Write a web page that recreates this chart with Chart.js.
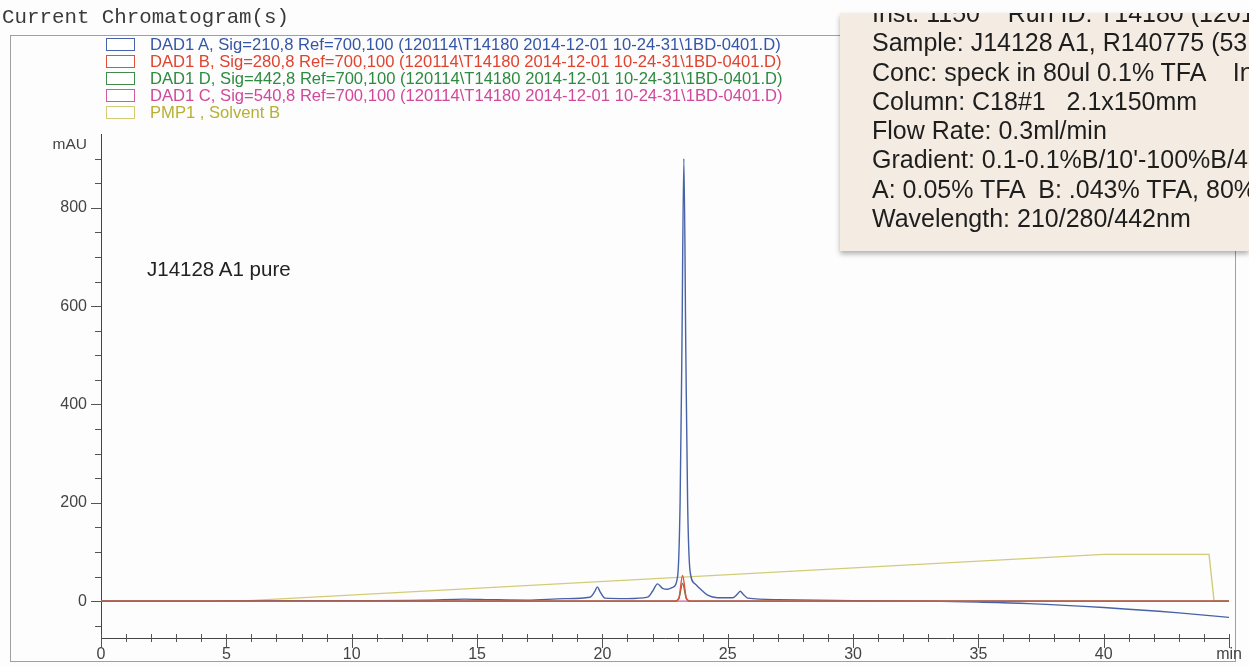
<!DOCTYPE html>
<html>
<head>
<meta charset="utf-8">
<script src="https://cdn.jsdelivr.net/npm/chart.js@4.4.1/dist/chart.umd.min.js"></script>
<style>
  body { margin: 0; width: 1249px; height: 666px; background: #fdfdfe; overflow: hidden; position: relative; font-family: "Liberation Sans", Arial, sans-serif; }
  #frame { position: absolute; left: 10px; top: 35px; width: 1226px; height: 627px; border: 1px solid #a0a0a0; box-sizing: border-box; }
  #chartBox { position: absolute; left: 0; top: 0; width: 1249px; height: 666px; }
  #title { position: absolute; left: 2px; top: 6px; font: 20.8px "Liberation Mono", "DejaVu Sans Mono", monospace; color: #3a3a3a; white-space: pre; }
  #legend { position: absolute; left: 106px; top: 36px; }
  .row { height: 17px; display: flex; align-items: center; white-space: pre; font-size: 16.6px; }
  .swatch { width: 27px; height: 11px; border: 1px solid; background: #fff; margin-right: 15px; }
  #sampleName { position: absolute; left: 147px; top: 257px; font-size: 20.5px; color: #222; }
  #note { position: absolute; left: 840px; top: 13px; width: 409px; height: 238px; background: #f4ece2; overflow: hidden; box-shadow: 0 3px 5px rgba(0,0,0,0.3); }
  #note div { position: absolute; left: 32px; top: -14px; font-size: 25px; line-height: 29.3px; color: #1e1e1e; white-space: pre; }
</style>
</head>
<body>
<div id="frame"></div>
<div id="chartBox"><canvas id="chromChart" width="1249" height="666"></canvas></div>
<div id="title">Current Chromatogram(s)</div>
<div id="legend"></div>
<div id="sampleName">J14128 A1 pure</div>
<div id="note"><div>Inst. 1150    Run ID: T14180 (120114)
Sample: J14128 A1, R140775 (53
Conc: speck in 80ul 0.1% TFA    Inj
Column: C18#1   2.1x150mm
Flow Rate: 0.3ml/min
Gradient: 0.1-0.1%B/10'-100%B/45'
A: 0.05% TFA  B: .043% TFA, 80%
Wavelength: 210/280/442nm</div></div>

<script>
// Signal traces (time in min, signal in mAU)
const timeA = [0, 4, 6, 10, 13, 14.5, 15.5, 17, 18.5, 19.5, 19.7, 19.8, 19.9, 20.1, 21, 21.8, 22.0, 22.2, 22.4, 22.6,
               22.8, 23.0, 23.1, 23.17, 23.25, 23.33, 23.4, 23.5, 23.7, 23.9, 24.2, 24.6, 25.2, 25.4, 25.5, 25.6, 25.8,
               27, 30, 33, 35, 37, 40, 43, 45];
const mauA  = [0, 0, 1, 1, 2, 4, 3, 2, 5, 8, 20, 29, 20, 6, 5, 8, 20, 35, 26, 24,
               28, 50, 200, 500, 900, 500, 200, 60, 35, 25, 12, 7, 7, 15, 20, 15, 6,
               3, 1, 0, -2, -5, -13, -24, -33];

const timeB = [0, 22.9, 23.05, 23.2, 23.35, 23.5, 45];
const mauB  = [0, 0, 6, 52, 6, 0, 0];

const timeD = [0, 22.9, 23.05, 23.2, 23.35, 23.5, 45];
const mauD  = [0, 0, 5, 36, 5, 0, 0];

const timeC = [0, 45];
const mauC  = [0, 0];

const timePMP = [0, 5.5, 40, 44.2, 44.4, 45];
const solventB = [0, 0, 95, 95, 0, 0];

const seriesNames = [
    'DAD1 A, Sig=210,8 Ref=700,100 (120114\\T14180 2014-12-01 10-24-31\\1BD-0401.D)',
    'DAD1 B, Sig=280,8 Ref=700,100 (120114\\T14180 2014-12-01 10-24-31\\1BD-0401.D)',
    'DAD1 D, Sig=442,8 Ref=700,100 (120114\\T14180 2014-12-01 10-24-31\\1BD-0401.D)',
    'DAD1 C, Sig=540,8 Ref=700,100 (120114\\T14180 2014-12-01 10-24-31\\1BD-0401.D)',
    'PMP1 , Solvent B'
];
const lineColors = ['#4862a8', '#e2503c', '#3f8a4c', '#d8589e', '#d2cc78'];
const textColors = ['#3556a6', '#e0432e', '#2e8a40', '#d2489a', '#b6b034'];

// Axis tick values
const xLabelTicks = [0, 5, 10, 15, 20, 25, 30, 35, 40, 45];
const yLabelTicks = [0, 200, 400, 600, 800];

function toPoints(xs, ys) {
    return xs.map((x, i) => ({ x: x, y: ys[i] }));
}

// Build the legend from the series arrays
const legendEl = document.getElementById('legend');
seriesNames.forEach((name, i) => {
    const row = document.createElement('div');
    row.className = 'row';
    row.style.color = textColors[i];
    const sw = document.createElement('span');
    sw.className = 'swatch';
    sw.style.borderColor = lineColors[i];
    row.appendChild(sw);
    row.appendChild(document.createTextNode(name));
    legendEl.appendChild(row);
});

// Minor/major tick marks and the unit label, placed through the chart scales
const tickMarks = {
    id: 'tickMarks',
    afterDraw(chart) {
        const ctx = chart.ctx;
        const xs = chart.scales.x;
        const ys = chart.scales.y;
        const area = chart.chartArea;
        ctx.save();
        ctx.strokeStyle = '#555';
        ctx.lineWidth = 1;
        ctx.beginPath();
        for (let t = 0; t <= 45; t++) {
            const px = Math.round(xs.getPixelForValue(t)) + 0.5;
            const major = t % 5 === 0;
            ctx.moveTo(px, area.bottom - 4);
            ctx.lineTo(px, area.bottom + (major ? 10 : 4));
        }
        for (let v = -50; v <= 900; v += 50) {
            const py = Math.round(ys.getPixelForValue(v)) + 0.5;
            const major = v % 200 === 0;
            ctx.moveTo(area.left - (major ? 10 : 6), py);
            ctx.lineTo(area.left, py);
        }
        ctx.stroke();
        ctx.fillStyle = '#444';
        ctx.font = '15.5px "Liberation Sans", Arial';
        ctx.textAlign = 'right';
        ctx.textBaseline = 'middle';
        ctx.fillText('mAU', area.left - 14, area.top + 11);
        ctx.restore();
    }
};

const datasets = [
    { label: seriesNames[0], data: toPoints(timeA, mauA), borderColor: lineColors[0], order: 3 },
    { label: seriesNames[1], data: toPoints(timeB, mauB), borderColor: lineColors[1], order: 0 },
    { label: seriesNames[2], data: toPoints(timeD, mauD), borderColor: lineColors[2], order: 1 },
    { label: seriesNames[3], data: toPoints(timeC, mauC), borderColor: lineColors[3], order: 2 },
    { label: seriesNames[4], data: toPoints(timePMP, solventB), borderColor: lineColors[4], order: 4, cubicInterpolationMode: 'default', tension: 0 }
];
datasets.forEach((d) => {
    d.borderWidth = 1.4;
    d.pointRadius = 0;
    d.fill = false;
    if (!d.cubicInterpolationMode) d.cubicInterpolationMode = 'monotone';
});

const ctx = document.getElementById('chromChart').getContext('2d');
new Chart(ctx, {
    type: 'line',
    data: { datasets: datasets },
    options: {
        responsive: false,
        animation: false,
        layout: { padding: { left: 0, top: 134, right: 17, bottom: 0 } },
        plugins: { legend: { display: false }, tooltip: { enabled: false } },
        scales: {
            x: {
                type: 'linear',
                min: 0,
                max: 45,
                afterBuildTicks: (axis) => { axis.ticks = xLabelTicks.map((v) => ({ value: v })); },
                afterFit: (axis) => { axis.height = 28; },
                grid: { display: false, drawTicks: false },
                border: { display: true, color: '#444', width: 1 },
                ticks: {
                    padding: 7,
                    color: '#444',
                    font: { size: 16, family: '"Liberation Sans", Arial' },
                    maxRotation: 0,
                    callback: (v) => (v === 45 ? 'min' : v)
                }
            },
            y: {
                min: -75,
                max: 950,
                afterBuildTicks: (axis) => { axis.ticks = yLabelTicks.map((v) => ({ value: v })); },
                afterFit: (axis) => { axis.width = 101; },
                grid: { display: false, drawTicks: false },
                border: { display: true, color: '#444', width: 1 },
                ticks: {
                    padding: 14,
                    color: '#444',
                    font: { size: 16, family: '"Liberation Sans", Arial' }
                }
            }
        }
    },
    plugins: [tickMarks]
});
</script>
</body>
</html>
